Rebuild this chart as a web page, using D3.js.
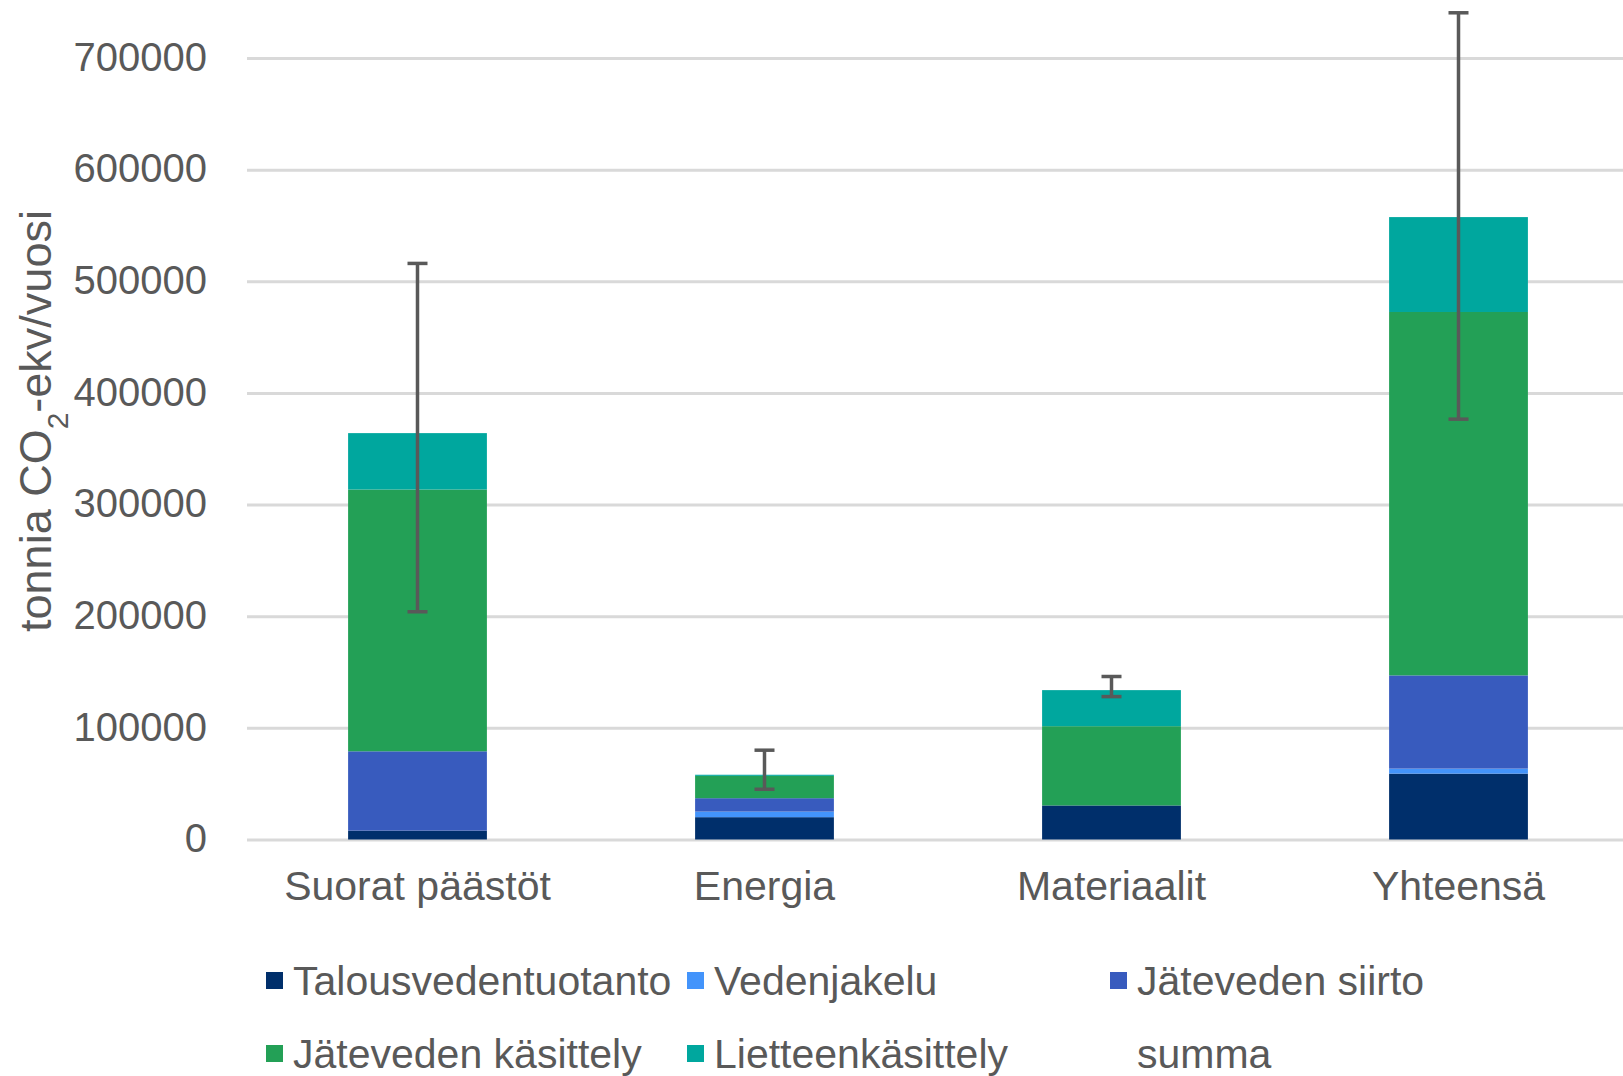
<!DOCTYPE html>
<meta charset="utf-8">
<style>
body { margin: 0; background: #fff; }
svg { font-family: "Liberation Sans", Arial, sans-serif; }
.grid line { stroke: #d9d9d9; stroke-width: 3px; }
.grid path { display: none; }
.tick text { fill: #595959; }
.errbar { stroke: #595959; stroke-width: 3.5px; fill: none; }
.legend text { fill: #595959; font-size: 41px; }
</style>
<svg width="1623" height="1076"></svg>
<script src="https://d3js.org/d3.v7.min.js"></script>
<script>

var categories = ["Suorat päästöt", "Energia", "Materiaalit", "Yhteensä"];

var talousvedentuotanto = [8000, 20000, 30500, 59000];
var vedenjakelu = [0, 5000, 0, 4500];
var jatevedenSiirto = [71000, 12000, 0, 83500];
var jatevedenKasittely = [234500, 20000, 71000, 325500];
var lietteenkasittely = [50500, 1000, 32300, 85000];

// summa-sarja näkyy vain virhepalkkeina
var summaLow = [204000, 45000, 128000, 376500];
var summaHigh = [516000, 80000, 146000, 740500];

var yTicks = [0, 100000, 200000, 300000, 400000, 500000, 600000, 700000];

var seriesNames = ["Talousvedentuotanto", "Vedenjakelu", "Jäteveden siirto", "Jäteveden käsittely", "Lietteenkäsittely"];
var seriesColors = ["#002f6b", "#4394fb", "#385bbe", "#23a056", "#00a79e"];
var seriesValues = [talousvedentuotanto, vedenjakelu, jatevedenSiirto, jatevedenKasittely, lietteenkasittely];

var svg = d3.select("svg"),
    width = +svg.attr("width"),
    height = +svg.attr("height");

var rows = categories.map(function(c, i) {
  var r = { cat: c };
  seriesNames.forEach(function(s, j) { r[s] = seriesValues[j][i]; });
  return r;
});

var x = d3.scaleBand()
    .domain(categories)
    .range([244, 1632])
    .paddingInner(0.6)
    .paddingOuter(0.3);

var y = d3.scaleLinear()
    .domain([0, 700000])
    .range([839.5, 58]);

var color = d3.scaleOrdinal().domain(seriesNames).range(seriesColors);

// ruudukko
svg.append("g")
    .attr("class", "grid")
    .attr("transform", "translate(247,0)")
    .call(d3.axisLeft(y).tickValues(yTicks).tickSize(-(width - 247)).tickFormat(""));

// y-akselin luvut
svg.append("g")
    .selectAll("text")
    .data(yTicks)
  .enter().append("text")
    .attr("x", 207)
    .attr("y", function(d) { return y(d); })
    .attr("dy", "0.32em")
    .attr("text-anchor", "end")
    .attr("fill", "#595959")
    .style("font-size", "40px")
    .text(function(d) { return d; });

var stack = d3.stack().keys(seriesNames);

svg.append("g")
  .selectAll("g")
  .data(stack(rows))
  .enter().append("g")
    .attr("fill", function(d) { return color(d.key); })
  .selectAll("rect")
  .data(function(d) { return d; })
  .enter().append("rect")
    .attr("x", function(d) { return x(d.data.cat); })
    .attr("y", function(d) { return y(d[1]); })
    .attr("width", x.bandwidth())
    .attr("height", function(d) { return y(d[0]) - y(d[1]); });

// virhepalkit
var err = svg.append("g").attr("class", "errbar")
  .selectAll("g")
  .data(categories)
  .enter().append("g");

err.append("line")
    .attr("x1", function(d) { return x(d) + x.bandwidth() / 2; })
    .attr("x2", function(d) { return x(d) + x.bandwidth() / 2; })
    .attr("y1", function(d, i) { return y(summaLow[i]); })
    .attr("y2", function(d, i) { return y(summaHigh[i]); });

err.append("line")
    .attr("x1", function(d) { return x(d) + x.bandwidth() / 2 - 10; })
    .attr("x2", function(d) { return x(d) + x.bandwidth() / 2 + 10; })
    .attr("y1", function(d, i) { return y(summaLow[i]); })
    .attr("y2", function(d, i) { return y(summaLow[i]); });

err.append("line")
    .attr("x1", function(d) { return x(d) + x.bandwidth() / 2 - 10; })
    .attr("x2", function(d) { return x(d) + x.bandwidth() / 2 + 10; })
    .attr("y1", function(d, i) { return y(summaHigh[i]); })
    .attr("y2", function(d, i) { return y(summaHigh[i]); });

// kategoriat
svg.append("g")
  .selectAll("text")
  .data(categories)
  .enter().append("text")
    .attr("x", function(d) { return x(d) + x.bandwidth() / 2; })
    .attr("y", 900)
    .attr("text-anchor", "middle")
    .attr("fill", "#595959")
    .style("font-size", "41px")
    .text(function(d) { return d; });

// akselin otsikko
var title = svg.append("text")
    .attr("transform", "translate(51,421) rotate(-90)")
    .attr("text-anchor", "middle")
    .attr("fill", "#595959")
    .style("font-size", "45px");
title.append("tspan").text("tonnia CO");
title.append("tspan").attr("baseline-shift", "sub").style("font-size", "30px").text("2");
title.append("tspan").text("-ekv/vuosi");

// selite
var legendItems = [
  { name: "Talousvedentuotanto", col: 0, row: 0, mark: true },
  { name: "Vedenjakelu", col: 1, row: 0, mark: true },
  { name: "Jäteveden siirto", col: 2, row: 0, mark: true },
  { name: "Jäteveden käsittely", col: 0, row: 1, mark: true },
  { name: "Lietteenkäsittely", col: 1, row: 1, mark: true },
  { name: "summa", col: 2, row: 1, mark: false }
];
var colX = [266, 687, 1110];
var rowY = [980, 1053];

var leg = svg.append("g").attr("class", "legend")
  .selectAll("g")
  .data(legendItems)
  .enter().append("g")
    .attr("transform", function(d) { return "translate(" + colX[d.col] + "," + rowY[d.row] + ")"; });

leg.filter(function(d) { return d.mark; }).append("rect")
    .attr("x", 0)
    .attr("y", -8)
    .attr("width", 17)
    .attr("height", 17)
    .attr("fill", function(d) { return color(d.name); });

leg.append("text")
    .attr("x", 27)
    .attr("dy", "0.36em")
    .text(function(d) { return d.name; });

</script>
